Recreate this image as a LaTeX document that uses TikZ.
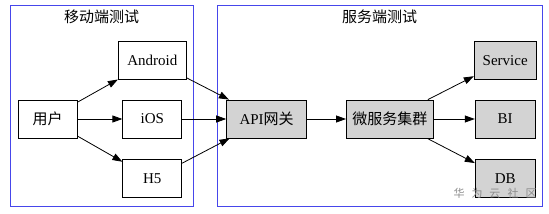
\documentclass[tikz,border=0pt]{standalone}
\usepackage{fontspec}
\setmainfont{Liberation Serif}
\newfontfamily\cjk{Noto Sans CJK SC}
\usepackage{xcolor}
\usepackage{tikz}
\usetikzlibrary{arrows.meta,positioning}
\definecolor{clusterblue}{RGB}{70,70,235}
\definecolor{boxgray}{RGB}{211,211,211}

\begin{document}
\begin{tikzpicture}[
  font=\fontsize{15}{17}\selectfont,
  box/.style={draw, line width=0.8pt, align=center, minimum height=38pt,
    minimum width=59pt, inner xsep=4pt},
  grey/.style={box, fill=boxgray},
  cluster/.style={draw=clusterblue, line width=1pt, minimum height=201pt},
  arr/.style={-{Triangle[length=10pt,width=7pt]}, line width=0.8pt}
]
\useasboundingbox (0,0) rectangle (549pt,-214pt);

% --- clusters ---
\node[cluster, minimum width=183pt] (mobile) at (101.5pt,-105.5pt) {};
\node[below=2pt of mobile.north] (mtitle) {\cjk 移动端测试};
\node[cluster, minimum width=325pt] (server) at (379.5pt,-105.5pt) {};
\node[below=2pt of server.north] (stitle) {\cjk 服务端测试};

% --- mobile side ---
\node[box] (user) at (47.5pt,-119pt) {\cjk 用户};
\node[box, right=45pt of user] (ios) {iOS};
\node[box, minimum width=68pt, above=20pt of ios] (android) {Android};
\node[box, below=21pt of ios] (h5) {H5};

% --- server side ---
\node[grey, minimum width=80pt, right=44pt of ios] (api) {API{\cjk 网关}};
\node[grey, minimum width=87pt, right=39pt of api] (micro) {\cjk 微服务集群};
\node[grey, minimum width=60pt, right=41pt of micro] (bi) {BI};
\node[grey, minimum width=62pt, above=20pt of bi] (service) {Service};
\node[grey, minimum width=60pt, below=21pt of bi] (db) {DB};

\node[text=black!45, font=\fontsize{11}{12}\selectfont, inner sep=1pt] (mark)
  at (495pt,-193pt)
  {\cjk 华\hspace{7pt}为\hspace{7pt}云\hspace{7pt}社\hspace{7pt}区};

\draw[arr] (user) -- (android);
\draw[arr] (user) -- (ios);
\draw[arr] (user) -- (h5);
\draw[arr] (android) -- (api);
\draw[arr] (ios) -- (api);
\draw[arr] (h5) -- (api);
\draw[arr] (api) -- (micro);
\draw[arr] (micro) -- (service);
\draw[arr] (micro) -- (bi);
\draw[arr] (micro) -- (db);
\end{tikzpicture}
\end{document}
